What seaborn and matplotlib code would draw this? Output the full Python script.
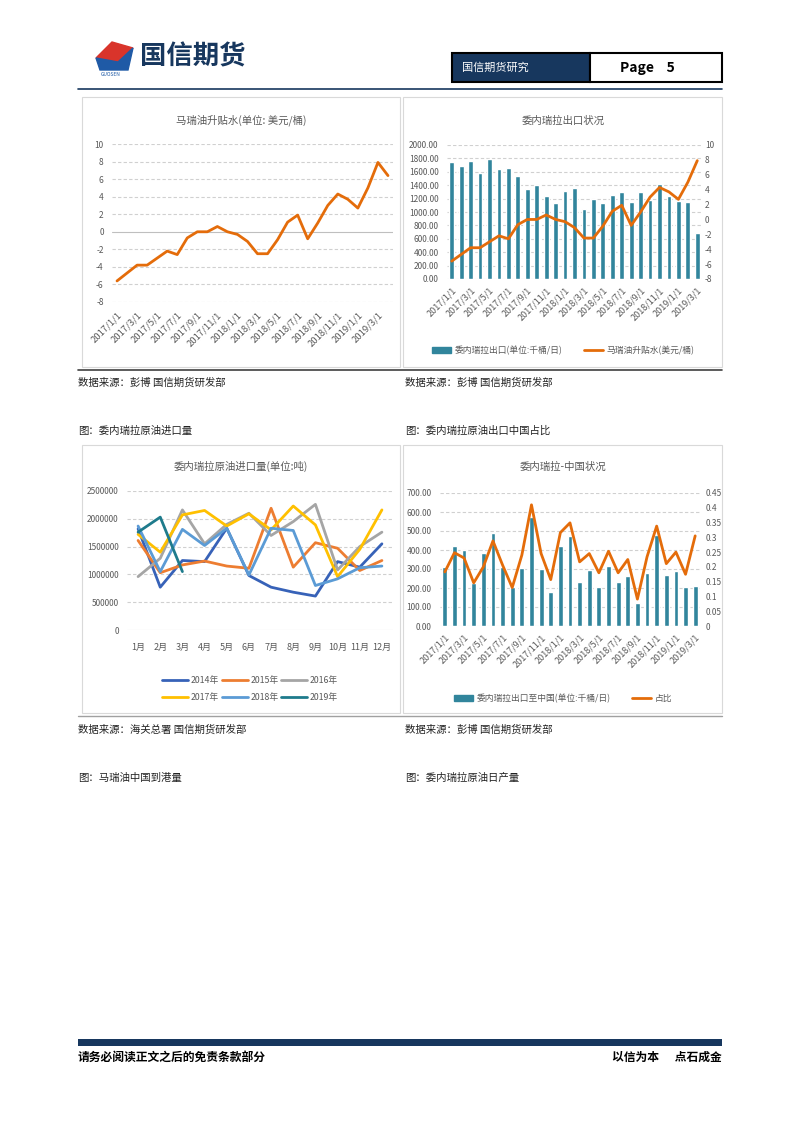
import numpy as np
import pandas as pd
import matplotlib.pyplot as plt
import seaborn as sns
from matplotlib.patches import Rectangle, Polygon
from matplotlib.lines import Line2D

# ---- data ----
months = ['2017/1/1', '2017/2/1', '2017/3/1', '2017/4/1', '2017/5/1', '2017/6/1', '2017/7/1',
          '2017/8/1', '2017/9/1', '2017/10/1', '2017/11/1', '2017/12/1', '2018/1/1', '2018/2/1',
          '2018/3/1', '2018/4/1', '2018/5/1', '2018/6/1', '2018/7/1', '2018/8/1', '2018/9/1',
          '2018/10/1', '2018/11/1', '2018/12/1', '2019/1/1', '2019/2/1', '2019/3/1', '2019/4/1']
premium = [-5.6, -4.7, -3.8, -3.8, -3.0, -2.2, -2.6, -0.7, 0.0, 0.0, 0.6, 0.0, -0.3, -1.1,
           -2.5, -2.5, -0.9, 1.1, 1.9, -0.8, 1.0, 3.0, 4.3, 3.7, 2.7, 5.0, 7.9, 6.4]

exports = [1742, 1692, 1757, 1578, 1792, 1643, 1653, 1538, 1340, 1410, 1236, 1131, 1320, 1355,
           1047, 1201, 1131, 1256, 1295, 1156, 1305, 1186, 1419, 1236, 1166, 1151, 690]

to_china = [313, 420, 400, 225, 383, 488, 312, 205, 305, 572, 302, 180, 420, 473,
            230, 295, 207, 315, 232, 262, 120, 278, 480, 267, 290, 203, 208]
share = [0.183, 0.248, 0.23, 0.146, 0.20, 0.288, 0.206, 0.13, 0.24, 0.41, 0.245, 0.157, 0.316, 0.349,
         0.217, 0.245, 0.18, 0.253, 0.18, 0.225, 0.091, 0.234, 0.338, 0.211, 0.25, 0.175, 0.305]

month_labels = ['1月', '2月', '3月', '4月', '5月', '6月', '7月', '8月', '9月', '10月', '11月', '12月']
imp_2014 = [1820000, 770000, 1250000, 1230000, 1830000, 980000, 770000, 680000, 610000, 1230000, 1130000, 1550000]
imp_2015 = [1610000, 1030000, 1170000, 1240000, 1150000, 1110000, 2190000, 1130000, 1570000, 1470000, 1070000, 1250000]
imp_2016 = [960000, 1290000, 2160000, 1550000, 1900000, 2100000, 1700000, 1950000, 2260000, 1080000, 1500000, 1760000]
imp_2017 = [1720000, 1400000, 2070000, 2150000, 1870000, 2090000, 1800000, 2230000, 1890000, 960000, 1450000, 2160000]
imp_2018 = [1870000, 1050000, 1810000, 1520000, 1830000, 990000, 1830000, 1790000, 800000, 920000, 1120000, 1150000]
imp_2019 = [1760000, 2030000, 1050000]

# ---- style ----
sns.set_style("white")
plt.rcParams['font.family'] = ['Noto Sans CJK SC', 'DejaVu Sans']
plt.rcParams['axes.unicode_minus'] = False

W, H = 802, 1133
fig = plt.figure(figsize=(W / 100, H / 100), dpi=100)

NAVY = '#17375E'
TEAL = '#31859C'
ORANGE = '#E46C0A'
GRAY = '#595959'
GRID = '#D0D0D0'


def px_axes(x0, y0, x1, y1):
    return fig.add_axes([x0 / W, 1 - y1 / H, (x1 - x0) / W, (y1 - y0) / H])


def fx(x):
    return x / W


def fy(y):
    return 1 - y / H


def style_ax(ax):
    for s in ax.spines.values():
        s.set_visible(False)
    ax.tick_params(length=0, labelsize=6, colors=GRAY)
    ax.set_xlabel('')
    ax.set_ylabel('')


def dashed_grid(ax, ticks):
    for t in ticks:
        ax.axhline(t, color=GRID, lw=0.8, ls=(0, (3, 2)), zorder=0)


# ---- header ----
fig.patches.append(Polygon([[fx(96), fy(58)], [fx(112), fy(42)], [fx(133), fy(48)], [fx(118), fy(62)]],
                           closed=True, color='#D9342B', transform=fig.transFigure))
fig.patches.append(Polygon([[fx(96), fy(58)], [fx(118), fy(62)], [fx(133), fy(48)], [fx(128), fy(70)], [fx(100), fy(70)]],
                           closed=True, color='#1F5AA6', transform=fig.transFigure))
fig.text(fx(111), fy(75), 'GUOSEN', fontsize=3.5, color='#1F5AA6', ha='center', va='center')
fig.text(fx(140), fy(57), '国信期货', fontsize=19, fontweight='bold', color=NAVY, ha='left', va='center')

fig.patches.append(Rectangle((fx(452), fy(82)), fx(590) - fx(452), fy(53) - fy(82),
                             facecolor=NAVY, edgecolor='black', lw=1.5, transform=fig.transFigure))
fig.patches.append(Rectangle((fx(590), fy(82)), fx(722) - fx(590), fy(53) - fy(82),
                             facecolor='white', edgecolor='black', lw=1.5, transform=fig.transFigure))
fig.text(fx(462), fy(68), '国信期货研究', fontsize=8, color='white', ha='left', va='center')
fig.text(fx(620), fy(68), 'Page    5', fontsize=10, fontweight='bold', color='black', ha='left', va='center')
fig.add_artist(Line2D([fx(78), fx(722)], [fy(89), fy(89)], color=NAVY, lw=1.2))

# chart frames
for (x0, y0, x1, y1) in [(82, 97, 400, 367), (403, 97, 722, 367), (82, 445, 400, 713), (403, 445, 722, 713)]:
    fig.patches.append(Rectangle((fx(x0), fy(y1)), fx(x1) - fx(x0), fy(y0) - fy(y1),
                                 facecolor='none', edgecolor='#D9D9D9', lw=0.8, transform=fig.transFigure))
fig.add_artist(Line2D([fx(78), fx(722)], [fy(370), fy(370)], color='#404040', lw=1.2))
fig.add_artist(Line2D([fx(78), fx(722)], [fy(716), fy(716)], color='#A0A0A0', lw=1.0))

# ---- chart 1: premium line ----
ax1 = px_axes(112, 144, 393, 302)
x1 = np.arange(len(months))
sns.lineplot(x=x1, y=premium, ax=ax1, color=ORANGE, lw=2)
ax1.set_xlim(-0.5, len(months) - 0.5)
ax1.set_ylim(-8, 10)
yt = np.arange(-8, 11, 2)
dashed_grid(ax1, [t for t in yt if t != 0])
ax1.axhline(0, color='#BFBFBF', lw=0.8, zorder=0)
ax1.set_yticks(yt)
ax1.set_yticklabels([str(t) for t in yt])
ax1.set_xticks(x1[::2])
ax1.set_xticklabels(months[::2], rotation=45, ha='right', rotation_mode='anchor')
style_ax(ax1)
ax1.tick_params(axis='y', pad=6)
ax1.tick_params(axis='x', pad=6, labelsize=6.8)
fig.text(fx(241), fy(120), '马瑞油升贴水(单位: 美元/桶)', fontsize=7.5, color=GRAY, ha='center', va='center')

# ---- chart 2: exports bars + premium line ----
ax2 = px_axes(447, 145, 702, 279)
cats = months[:27]
sns.barplot(x=cats, y=exports, ax=ax2, color=TEAL, saturation=1, width=0.5, zorder=2)
ax2.set_ylim(0, 2000)
lt = np.arange(0, 2001, 200)
dashed_grid(ax2, lt[1:])
ax2.axhline(0, color='#D9D9D9', lw=0.8, zorder=0)
ax2.set_yticks(lt)
ax2.set_yticklabels([f'{t:.2f}' for t in lt])
ax2.set_xlim(-0.5, 26.5)
ax2.set_xticks(np.arange(27)[::2])
ax2.set_xticklabels(cats[::2], rotation=45, ha='right', rotation_mode='anchor')
style_ax(ax2)
ax2.tick_params(axis='y', pad=6)
ax2.tick_params(axis='x', pad=5, labelsize=6.5)
ax2b = ax2.twinx()
sns.lineplot(x=np.arange(27), y=premium[:27], ax=ax2b, color=ORANGE, lw=2)
ax2b.set_ylim(-8, 10)
ax2b.set_yticks(yt)
ax2b.set_yticklabels([str(t) for t in yt])
style_ax(ax2b)
ax2b.tick_params(axis='y', pad=2)
fig.text(fx(563), fy(121), '委内瑞拉出口状况', fontsize=7.5, color=GRAY, ha='center', va='center')
h2 = [Rectangle((0, 0), 1, 1, color=TEAL), Line2D([], [], color=ORANGE, lw=2)]
fig.legend(h2, ['委内瑞拉出口(单位:千桶/日)', '马瑞油升贴水(美元/桶)'], loc='center',
           bbox_to_anchor=(fx(563), fy(350)), ncol=2, frameon=False, fontsize=6.3,
           labelcolor=GRAY, handlelength=2.2, columnspacing=2.5, handletextpad=0.4)

# ---- chart 3: imports by year ----
ax3 = px_axes(127, 491, 393, 630)
years = {'2014年': imp_2014, '2015年': imp_2015, '2016年': imp_2016,
         '2017年': imp_2017, '2018年': imp_2018, '2019年': imp_2019}
rows = []
for yname, vals in years.items():
    for i, v in enumerate(vals):
        rows.append({'month': i, 'value': v, 'year': yname})
df3 = pd.DataFrame(rows)
pal3 = {'2014年': '#3762B8', '2015年': '#ED7D31', '2016年': '#A5A5A5',
        '2017年': '#FFC000', '2018年': '#5B9BD5', '2019年': '#1E7B8C'}
sns.lineplot(data=df3, x='month', y='value', hue='year', palette=pal3, ax=ax3, lw=2, legend=False)
ax3.set_xlim(-0.5, 11.5)
ax3.set_ylim(0, 2500000)
t3 = np.arange(0, 2500001, 500000)
dashed_grid(ax3, t3[1:])
ax3.axhline(0, color='#D9D9D9', lw=0.8, zorder=0)
ax3.set_yticks(t3)
ax3.set_yticklabels([str(t) for t in t3])
ax3.set_xticks(np.arange(12))
ax3.set_xticklabels(month_labels)
style_ax(ax3)
ax3.tick_params(axis='y', pad=6)
ax3.tick_params(axis='x', pad=9, labelsize=6.5)
fig.text(fx(241), fy(466), '委内瑞拉原油进口量(单位:吨)', fontsize=7.5, color=GRAY, ha='center', va='center')
order = ['2014年', '2017年', '2015年', '2018年', '2016年', '2019年']
h3 = [Line2D([], [], color=pal3[k], lw=2) for k in order]
fig.legend(h3, order, loc='center', bbox_to_anchor=(fx(250), fy(689)), ncol=3, frameon=False,
           fontsize=6.3, labelcolor=GRAY, handlelength=3, columnspacing=0.3, handletextpad=0.3,
           labelspacing=0.9)

# ---- chart 4: exports to China + share ----
ax4 = px_axes(440, 493, 700, 626)
sns.barplot(x=cats, y=to_china, ax=ax4, color=TEAL, saturation=1, width=0.5, zorder=2)
ax4.set_ylim(0, 700)
t4 = np.arange(0, 701, 100)
dashed_grid(ax4, t4[1:])
ax4.axhline(0, color='#D9D9D9', lw=0.8, zorder=0)
ax4.set_yticks(t4)
ax4.set_yticklabels([f'{t:.2f}' for t in t4])
ax4.set_xlim(-0.5, 26.5)
ax4.set_xticks(np.arange(27)[::2])
ax4.set_xticklabels(cats[::2], rotation=45, ha='right', rotation_mode='anchor')
style_ax(ax4)
ax4.tick_params(axis='y', pad=6)
ax4.tick_params(axis='x', pad=5, labelsize=6.5)
ax4b = ax4.twinx()
sns.lineplot(x=np.arange(27), y=share, ax=ax4b, color=ORANGE, lw=2)
ax4b.set_ylim(0, 0.45)
r4 = np.round(np.arange(0, 0.451, 0.05), 2)
ax4b.set_yticks(r4)
ax4b.set_yticklabels([f'{t:g}' for t in r4])
style_ax(ax4b)
ax4b.tick_params(axis='y', pad=4)
fig.text(fx(563), fy(467), '委内瑞拉-中国状况', fontsize=7.5, color=GRAY, ha='center', va='center')
h4 = [Rectangle((0, 0), 1, 1, color=TEAL), Line2D([], [], color=ORANGE, lw=2)]
fig.legend(h4, ['委内瑞拉出口至中国(单位:千桶/日)', '占比'], loc='center',
           bbox_to_anchor=(fx(563), fy(698)), ncol=2, frameon=False, fontsize=6.3,
           labelcolor=GRAY, handlelength=2.2, columnspacing=2.5, handletextpad=0.4)

# ---- captions ----
cap = dict(fontsize=7.5, color='#222222', ha='left', va='center')
fig.text(fx(78), fy(383), '数据来源：彭博 国信期货研发部', **cap)
fig.text(fx(405), fy(383), '数据来源：彭博 国信期货研发部', **cap)
fig.text(fx(78), fy(431), '图：委内瑞拉原油进口量', **cap)
fig.text(fx(405), fy(431), '图：委内瑞拉原油出口中国占比', **cap)
fig.text(fx(78), fy(730), '数据来源：海关总署 国信期货研发部', **cap)
fig.text(fx(405), fy(730), '数据来源：彭博 国信期货研发部', **cap)
fig.text(fx(78), fy(778), '图：马瑞油中国到港量', **cap)
fig.text(fx(405), fy(778), '图：委内瑞拉原油日产量', **cap)

# ---- footer ----
fig.patches.append(Rectangle((fx(78), fy(1046)), fx(722) - fx(78), fy(1039) - fy(1046),
                             facecolor=NAVY, edgecolor='none', transform=fig.transFigure))
fig.text(fx(78), fy(1057), '请务必阅读正文之后的免责条款部分', fontsize=8.5, fontweight='bold',
         color='black', ha='left', va='center')
fig.text(fx(722), fy(1057), '以信为本      点石成金', fontsize=8.5, fontweight='bold',
         color='black', ha='right', va='center')

fig.savefig('out.png', dpi=100)
